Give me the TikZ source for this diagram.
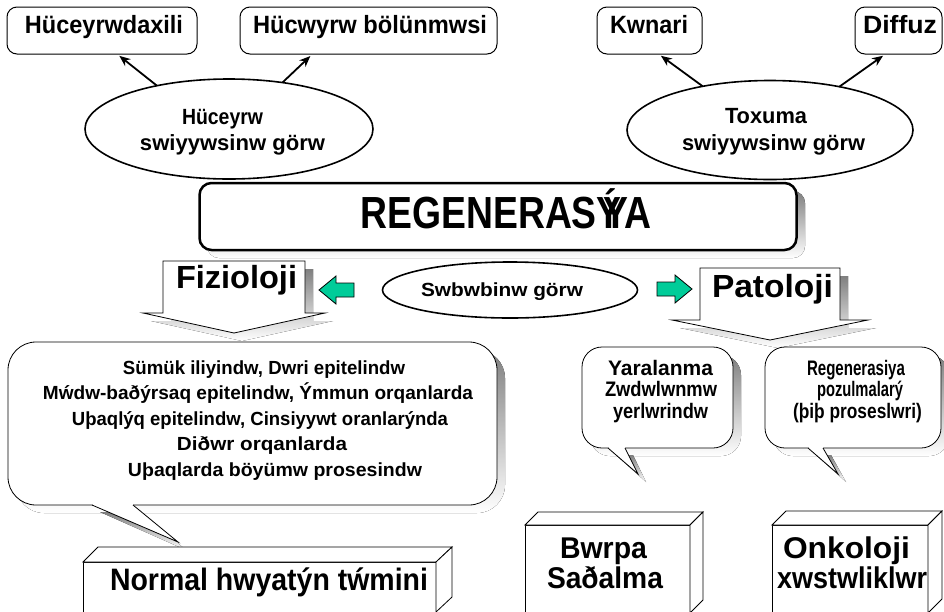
\documentclass[tikz,border=0pt]{standalone}
\usepackage{graphicx}
\usepackage{fontspec}
\setmainfont{Liberation Sans}
\usetikzlibrary{shapes.geometric,arrows.meta}

\definecolor{shade}{RGB}{150,150,150}
\definecolor{arrgreen}{RGB}{0,204,153}

% bold text at a given size, and text squeezed to a given width
\newcommand\fsz[1]{\fontsize{#1pt}{#1pt}\selectfont\bfseries}
\newcommand\fitw[2]{\resizebox{#1pt}{\height}{#2}}

\begin{document}
\begin{tikzpicture}[x=1pt,y=-1pt,
  every node/.style={inner sep=0pt, outer sep=0pt},
  topbox/.style={draw, line width=1pt, rounded corners=10pt, fill=white, minimum height=47pt},
  oval/.style={ellipse, draw, line width=1.6pt, fill=white},
  lbl/.style={anchor=base, text=black},
  arr/.style={-{Stealth[length=11pt,width=9pt]}, line width=1.8pt, shorten >=3pt},
  thin/.style={line width=0.8pt},
  blockarrow/.style={draw, line width=0.8pt, fill=arrgreen}
]
\useasboundingbox (0,0) rectangle (944,611);
\clip (0,0) rectangle (944,611);
\fill[white] (0,0) rectangle (944,611);

% ---- top row: boxes ----
\node[topbox, minimum width=190pt] (b1) at (102,30.5) {};
\node[topbox, minimum width=257pt] (b2) at (368.5,30.5) {};
\node[topbox, minimum width=105pt] (b3) at (649.5,30.5) {};
\node[topbox, minimum width=87pt] (b4) at (898.5,30.5) {};
\node[lbl, font=\fsz{25}] (t1) at (104,33) {\fitw{158}{Hüceyrwdaxili}};
\node[lbl, font=\fsz{25}] (t2) at (370,33) {\fitw{234}{Hücwyrw bölünmwsi}};
\node[lbl, font=\fsz{25}] (t3) at (649,33) {\fitw{78}{Kwnari}};
\node[lbl, font=\fsz{25}] (t4) at (900,33) {\fitw{74}{Diffuz}};

% ---- the two upper ovals ----
\node[oval, minimum width=288pt, minimum height=100pt] (e1) at (229,129) {};
\node[oval, minimum width=286pt, minimum height=99pt] (e2) at (770,130) {};
\node[lbl, font=\fsz{22}] (e1a) at (222.5,124) {\fitw{81}{Hüceyrw}};
\node[lbl, font=\fsz{22}] (e1b) at (232.5,150) {\fitw{185}{swiyywsinw görw}};
\node[lbl, font=\fsz{22}] (e2a) at (766,123) {\fitw{82}{Toxuma}};
\node[lbl, font=\fsz{22}] (e2b) at (773.5,150) {\fitw{183}{swiyywsinw görw}};

\draw[arr] (e1.149) -- ([xshift=15pt]b1.south);
\draw[arr] (e1.41) -- ([xshift=-56pt]b2.south);
\draw[arr] (e2.147) -- ([xshift=9pt]b3.south);
\draw[arr] (e2.32) -- ([xshift=-13pt]b4.south);

% ---- title box ----
\fill[shade, rounded corners=12pt] (207,191) rectangle (805,258);
\node[draw, line width=2.5pt, rounded corners=12pt, fill=white,
      minimum width=597pt, minimum height=67pt] (reg) at (498,216.5) {};
\node[lbl, font=\fsz{45}] (regt) at (506,228) {\fitw{291}{REGENERASÝ\kern-0.5em YA}};

% ---- Fizioloji down-arrow callout ----
\fill[shade, shift={(8,8)}] (163,261) -- (305,261) -- (305,313) -- (325,313)
  -- (234,333) -- (143,313) -- (163,313) -- cycle;
\draw[thin, fill=white] (163,261) -- (305,261) -- (305,313) -- (325,313)
  -- (234,333) -- (143,313) -- (163,313) -- cycle;
\node[lbl, font=\fsz{32}] (fiz) at (236.5,288) {\fitw{121}{Fizioloji}};

% ---- Patoloji down-arrow callout ----
\fill[shade, shift={(8,8)}] (700,268) -- (840,268) -- (840,320) -- (868,320)
  -- (770,340) -- (672,320) -- (700,320) -- cycle;
\draw[thin, fill=white] (700,268) -- (840,268) -- (840,320) -- (868,320)
  -- (770,340) -- (672,320) -- (700,320) -- cycle;
\node[lbl, font=\fsz{32}] (pat) at (772.5,297) {\fitw{121}{Patoloji}};

% ---- middle oval and green block arrows ----
\node[oval, minimum width=255pt, minimum height=56pt] (sb) at (510,290) {};
\node[lbl, font=\fsz{19}] (sbt) at (502,296) {\fitw{162}{Swbwbinw görw}};
\path[blockarrow] (319,290) -- (336,276) -- (336,283) -- (354,283) -- (354,297)
  -- (336,297) -- (336,304) -- cycle;
\path[blockarrow] (657,282) -- (675,282) -- (675,275) -- (692,289) -- (675,303)
  -- (675,296) -- (657,296) -- cycle;

% ---- large speech callout ----
\fill[shade, rounded corners=28pt] (16,350) rectangle (505,513);
\fill[shade, shift={(8,8)}] (92,504) -- (178,542) -- (133,504) -- cycle;
\draw[thin, fill=white, rounded corners=28pt] (8,342) rectangle (497,505);
\fill[white] (92.5,503.5) -- (92.5,505) -- (178,542) -- (133,505) -- (133,503.5) -- cycle;
\draw[thin] (92,505) -- (178,542) -- (133,505);
\node[lbl, font=\fsz{19}] (f1) at (264,374) {\fitw{282}{Sümük iliyindw, Dwri epitelindw}};
\node[lbl, font=\fsz{19}] (f2) at (258,399.5) {\fitw{430}{Mẃdw-baðýrsaq epitelindw, Ýmmun orqanlarda}};
\node[lbl, font=\fsz{19}] (f3) at (260,425) {\fitw{376}{Uþaqlýq epitelindw, Cinsiyywt oranlarýnda}};
\node[lbl, font=\fsz{19}] (f4) at (262,450.5) {\fitw{170}{Diðwr orqanlarda}};
\node[lbl, font=\fsz{19}] (f5) at (275,476) {\fitw{294}{Uþaqlarda böyümw prosesindw}};

% ---- small speech callouts ----
\fill[shade, rounded corners=20pt] (590,355) rectangle (741,456);
\fill[shade, shift={(8,8)}] (608,447) -- (638,474) -- (625,447) -- cycle;
\draw[thin, fill=white, rounded corners=20pt] (582,347) rectangle (733,448);
\fill[white] (608.5,446.5) -- (608.5,448) -- (638,474) -- (625,448) -- (625,446.5) -- cycle;
\draw[thin] (608,448) -- (638,474) -- (625,448);
\node[lbl, font=\fsz{21}] (a1) at (660.5,375) {\fitw{105}{Yaralanma}};
\node[lbl, font=\fsz{21}] (a2) at (661,396) {\fitw{112}{Zwdwlwnmw}};
\node[lbl, font=\fsz{21}] (a3) at (660.5,418) {\fitw{95}{yerlwrindw}};

\fill[shade, rounded corners=20pt] (773,355) rectangle (949,456);
\fill[shade, shift={(8,8)}] (808,447) -- (838,474) -- (823,447) -- cycle;
\draw[thin, fill=white, rounded corners=20pt] (765,347) rectangle (941,448);
\fill[white] (808.5,446.5) -- (808.5,448) -- (838,474) -- (823,448) -- (823,446.5) -- cycle;
\draw[thin] (808,448) -- (838,474) -- (823,448);
\node[lbl, font=\fsz{21}] (p1) at (856,375) {\fitw{98}{Regenerasiya}};
\node[lbl, font=\fsz{21}] (p2) at (860,396) {\fitw{86}{pozulmalarý}};
\node[lbl, font=\fsz{21}] (p3) at (857.5,418) {\fitw{129}{(þiþ proseslwri)}};

% ---- bottom blocks ----
\draw[thin, fill=white] (83,562) rectangle (436,612);
\draw[thin, fill=white] (83,562) -- (98,547) -- (452,547) -- (436,562) -- cycle;
\draw[thin, fill=white] (436,562) -- (452,547) -- (452,597) -- (436,612) -- cycle;
\node[lbl, font=\fsz{31}] (n1) at (269,590) {\fitw{318}{Normal hwyatýn tẃmini}};

\draw[thin, fill=white] (525,525) rectangle (690,613);
\draw[thin, fill=white] (525,525) -- (538,512) -- (703,512) -- (690,525) -- cycle;
\draw[thin, fill=white] (690,525) -- (703,512) -- (703,600) -- (690,613) -- cycle;
\node[lbl, font=\fsz{30}] (s1) at (603.5,558) {\fitw{87}{Bwrpa}};
\node[lbl, font=\fsz{30}] (s2) at (605,588) {\fitw{116}{Saðalma}};

\draw[thin, fill=white] (772,525) rectangle (928,613);
\draw[thin, fill=white] (772,525) -- (786,511) -- (942,511) -- (928,525) -- cycle;
\draw[thin, fill=white] (928,525) -- (942,511) -- (942,599) -- (928,613) -- cycle;
\node[lbl, font=\fsz{30}] (o1) at (846.5,558) {\fitw{127}{Onkoloji}};
\node[lbl, font=\fsz{30}] (o2) at (852,588) {\fitw{150}{xwstwliklwr}};
\end{tikzpicture}
\end{document}
